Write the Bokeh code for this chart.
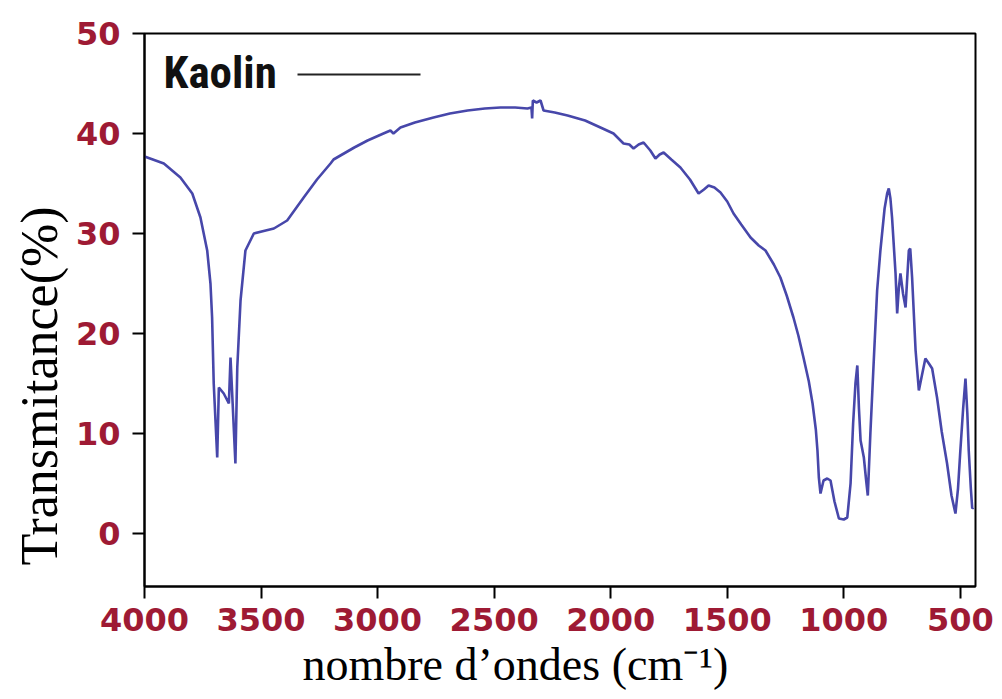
from bokeh.plotting import figure
from bokeh.models import Range1d, FixedTicker, Label, Arrow, Title
from bokeh.embed import file_html
from bokeh.resources import INLINE

# FTIR spectrum of kaolin: wavenumber (cm-1) and transmittance (%)
wavenumber = [
    4000, 3988, 3917, 3846, 3795, 3760, 3731, 3717, 3710, 3703, 3688, 3681,
    3660, 3638, 3631, 3610, 3602, 3588, 3567, 3531, 3480, 3445, 3388, 3317,
    3260, 3202, 3189, 3100, 3043, 2975, 2945, 2932, 2902, 2840, 2760, 2690,
    2614, 2540, 2473, 2410, 2357, 2340, 2337, 2334, 2318, 2301, 2288, 2240,
    2185, 2110, 2044, 1988, 1945, 1920, 1902, 1880, 1859, 1830, 1808, 1790,
    1773, 1740, 1701, 1660, 1623, 1600, 1580, 1555, 1529, 1500, 1473, 1440,
    1400, 1365, 1336, 1300, 1272, 1245, 1216, 1195, 1173, 1150, 1134, 1120,
    1113, 1107, 1100, 1087, 1071, 1057, 1040, 1021, 1000, 985, 971, 960,
    950, 942, 935, 928, 914, 905, 897, 886, 870, 857, 843, 825, 814, 807,
    800, 793, 778, 771, 764, 757, 746, 735, 728, 721, 715, 707, 692, 678,
    665, 650, 635, 621, 600, 580, 557, 538, 521, 510, 500, 488, 478, 470,
    464, 455, 449, 444,
]
transmittance = [
    37.7, 37.6, 37.0, 35.6, 34.0, 31.6, 28.3, 25.0, 21.6, 15.0, 7.6, 14.6,
    14.0, 13.0, 17.6, 7.0, 16.6, 23.3, 28.3, 30.0, 30.3, 30.5, 31.3, 33.6,
    35.4, 37.0, 37.4, 38.6, 39.3, 40.0, 40.3, 40.0, 40.6, 41.1, 41.6, 42.0,
    42.3, 42.5, 42.6, 42.6, 42.5, 42.6, 41.5, 43.3, 43.1, 43.3, 42.3, 42.1,
    41.8, 41.3, 40.6, 40.0, 39.0, 38.9, 38.5, 38.9, 39.1, 38.3, 37.5, 37.9,
    38.1, 37.4, 36.6, 35.4, 34.0, 34.4, 34.8, 34.6, 34.1, 33.2, 32.0, 30.9,
    29.6, 28.8, 28.3, 26.9, 25.6, 23.8, 21.6, 19.8, 17.6, 15.2, 13.0, 10.4,
    8.3, 5.6, 4.0, 5.3, 5.5, 5.3, 3.2, 1.5, 1.4, 1.6, 5.0, 11.0,
    15.0, 16.8, 12.5, 9.3, 7.6, 5.5, 3.8, 10.0, 18.0, 24.3, 28.3, 32.5, 34.0, 34.5,
    33.5, 31.6, 26.0, 22.0, 24.5, 26.0, 24.0, 22.6, 25.5, 28.3, 28.5, 25.6, 18.3, 14.3,
    15.8, 17.5, 17.0, 16.5, 13.6, 10.2, 7.0, 3.8, 2.0, 4.5, 8.3, 12.5, 15.5, 12.0,
    8.3, 4.5, 2.5, 2.6,
]

x_ticks = [4000, 3500, 3000, 2500, 2000, 1500, 1000, 500]
y_ticks = [0, 10, 20, 30, 40, 50]
series_name = "Kaolin"
x_title = "nombre d\u2019ondes (cm\u207b\u00b9)"
y_title = "Transmitance(%)"

tick_red = "#9e1a34"
curve_blue = "#4747aa"
legend_font = "'Roboto Condensed', 'Liberation Sans Narrow', 'DejaVu Sans Condensed', Roboto, sans-serif"

p = figure(
    width=1002, height=699,
    output_backend="svg", toolbar_location=None,
    x_range=Range1d(4000, 435), y_range=Range1d(-5.3, 50),
    min_border_left=144, min_border_right=27,
    min_border_top=33, min_border_bottom=113,
)
p.background_fill_color = "white"
p.border_fill_color = "white"
p.grid.visible = False
p.outline_line_color = "black"
p.outline_line_width = 2

p.line(wavenumber, transmittance, line_color=curve_blue, line_width=2.6)

for ax in (p.xaxis[0], p.yaxis[0]):
    ax.axis_line_color = "black"
    ax.axis_line_width = 2
    ax.major_tick_line_color = "black"
    ax.major_tick_line_width = 2
    ax.major_tick_in = 0
    ax.major_tick_out = 12
    ax.minor_tick_line_color = None
    ax.major_label_text_font = "DejaVu Sans"
    ax.major_label_text_font_style = "bold"
    ax.major_label_text_font_size = "32px"
    ax.major_label_text_color = tick_red

p.xaxis.ticker = FixedTicker(ticks=x_ticks)
p.yaxis.ticker = FixedTicker(ticks=y_ticks)
p.xaxis.major_label_standoff = 9
p.yaxis.major_label_standoff = 12

# axis titles as side-panel titles, shifted along their axes
p.add_layout(Title(
    text=x_title, align="left", offset=158, standoff=7,
    text_font="Liberation Serif", text_font_style="normal",
    text_font_size="46px", text_color="black",
), "below")
p.add_layout(Title(
    text=y_title, align="left", offset=21, standoff=10,
    text_font="Liberation Serif", text_font_style="normal",
    text_font_size="52px", text_color="black",
), "left")

# legend key drawn by hand: name on the left, line sample on the right
p.add_layout(Label(
    x=19, y=514, x_units="screen", y_units="screen", text=series_name,
    text_font=legend_font, text_font_style="bold",
    text_font_size="45px", text_color="#111111",
    text_baseline="alphabetic",
))
p.add_layout(Arrow(
    x_start=153, y_start=512, x_end=276, y_end=512,
    start_units="screen", end_units="screen", end=None,
    line_color="#222222", line_width=2,
))

open("out.html", "w").write(file_html(p, INLINE))
